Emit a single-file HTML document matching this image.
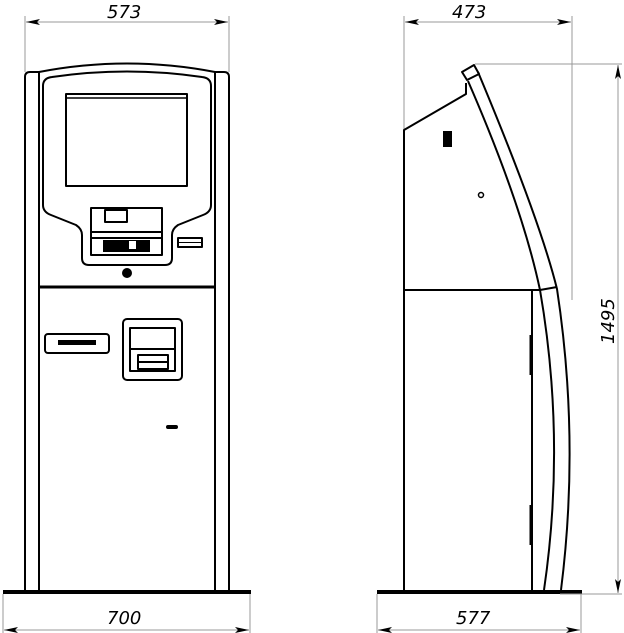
<!DOCTYPE html>
<html><head><meta charset="utf-8"><style>
html,body{margin:0;padding:0;background:#fff;}
svg{display:block;}
text{font-family:"DejaVu Sans","Liberation Sans",sans-serif;font-style:italic;font-size:18px;fill:#000;}
</style></head><body>
<svg width="624" height="633" viewBox="0 0 624 633" xmlns="http://www.w3.org/2000/svg">
<defs>
<marker id="a" viewBox="0 0 14 6" refX="14" refY="3" markerWidth="14" markerHeight="6" orient="auto-start-reverse" markerUnits="userSpaceOnUse"><path d="M14,3 L0,0 L3,3 L0,6 Z" fill="#000"/></marker>
</defs>
<g stroke="#000" fill="none" stroke-width="1">
<line x1="25" y1="16" x2="25" y2="72" stroke="#999"/>
<line x1="229" y1="16" x2="229" y2="72" stroke="#999"/>
<line x1="26" y1="22" x2="228" y2="22" stroke="#999" marker-start="url(#a)" marker-end="url(#a)"/>
<line x1="3" y1="594" x2="3" y2="633" stroke="#999"/>
<line x1="250" y1="594" x2="250" y2="633" stroke="#999"/>
<line x1="4" y1="630" x2="249" y2="630" stroke="#999" marker-start="url(#a)" marker-end="url(#a)"/>
</g>
<g stroke="#000" fill="none" stroke-width="2" stroke-linejoin="round">
<path d="M25,591 V77 Q25,72 30,72 H39 V591"/>
<path d="M229,591 V77 Q229,72 224,72 H215 V591"/>
<path d="M39,72 Q127,55 215,72"/>
<path d="M43,205 V86 Q43,78 52,77 Q127,66 202,77 Q211,78 211,86 V205 Q211,212 203,215 L178,225 Q172,229 172,235 V258 Q172,265 165,265 H89 Q82,265 82,258 V235 Q82,229 76,225 L51,215 Q43,212 43,205 Z"/>
<rect x="66" y="94" width="121" height="92"/>
<line x1="66" y1="98" x2="187" y2="98" stroke-width="1.5"/>
<rect x="91" y="208" width="71" height="47"/>
<rect x="105" y="210" width="22" height="12"/>
<line x1="91" y1="232" x2="162" y2="232"/>
<line x1="91" y1="238" x2="162" y2="238"/>
<rect x="178" y="238" width="24" height="9"/>
<line x1="178" y1="242.5" x2="202" y2="242.5" stroke-width="1"/>
<line x1="39" y1="287" x2="215" y2="287" stroke-width="3"/>
<rect x="45" y="334" width="64" height="19" rx="3"/>
<rect x="123" y="319" width="59" height="61" rx="4"/>
<rect x="130" y="328" width="45" height="43"/>
<line x1="130" y1="349" x2="175" y2="349"/>
<rect x="138" y="355" width="30" height="14"/>
<line x1="138" y1="362" x2="168" y2="362"/>
<rect x="167" y="426" width="10" height="2" rx="1"/>
</g>
<g fill="#000">
<rect x="103" y="240" width="47" height="12"/>
<rect x="129" y="241" width="7" height="8" fill="#fff"/>
<circle cx="127" cy="273" r="5"/>
<rect x="58" y="340" width="38" height="5"/>
<rect x="3" y="590" width="248" height="4"/>
<rect x="377" y="590" width="205" height="4"/>
<rect x="443" y="131" width="9" height="16"/>
</g>
<g stroke="#000" fill="none" stroke-width="1">
<line x1="404" y1="16" x2="404" y2="130" stroke="#999"/>
<line x1="572" y1="16" x2="572" y2="300" stroke="#999"/>
<line x1="405" y1="22" x2="571" y2="22" stroke="#999" marker-start="url(#a)" marker-end="url(#a)"/>
<line x1="475" y1="64" x2="622" y2="64" stroke="#999"/>
<line x1="560" y1="594" x2="622" y2="594" stroke="#999"/>
<line x1="618" y1="65" x2="618" y2="593" stroke="#999" marker-start="url(#a)" marker-end="url(#a)"/>
<line x1="377" y1="594" x2="377" y2="633" stroke="#999"/>
<line x1="581" y1="594" x2="581" y2="633" stroke="#999"/>
<line x1="378" y1="630" x2="580" y2="630" stroke="#999" marker-start="url(#a)" marker-end="url(#a)"/>
</g>
<g stroke="#000" fill="none" stroke-width="2" stroke-linejoin="round">
<path d="M404,591 V130 L466,94 V83"/>
<path d="M462,72 L474,65 L479,74 L467,80 Z"/>
<path d="M478,72 Q540,220 557,289 Q580,440 561,590"/>
<path d="M468,81 Q522,205 540,290 Q566,440 544,590"/>
<line x1="404" y1="290" x2="540" y2="290"/>
<line x1="540" y1="290" x2="557" y2="287"/>
<line x1="532" y1="290" x2="532" y2="590"/>
<line x1="531" y1="335" x2="531" y2="375" stroke-width="3"/>
<line x1="531" y1="505" x2="531" y2="545" stroke-width="3"/>
<circle cx="481" cy="195" r="2.5" stroke-width="1.5"/>
</g>
<text x="107" y="18">573</text>
<text x="107" y="624">700</text>
<text x="452" y="18">473</text>
<text x="456" y="624">577</text>
<text x="0" y="0" transform="translate(614,344) rotate(-90)">1495</text>
</svg>
</body></html>
